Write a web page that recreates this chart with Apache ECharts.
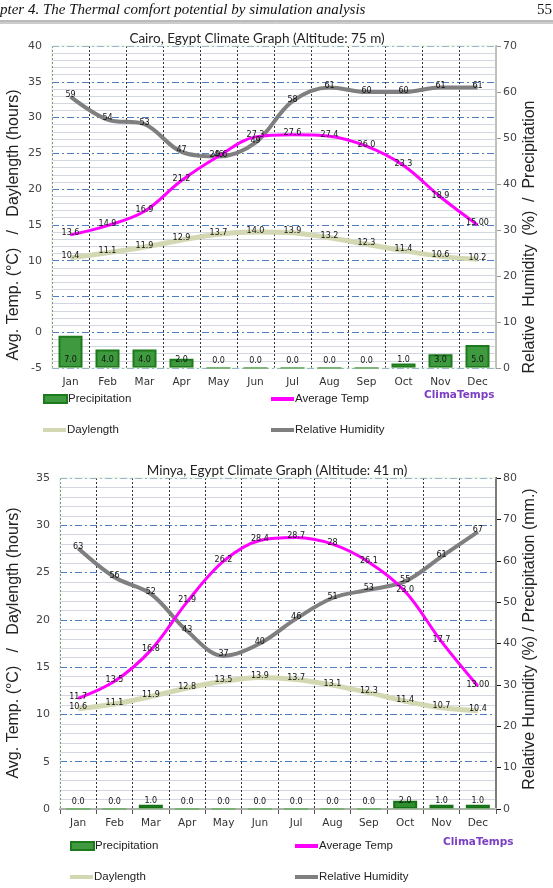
<!DOCTYPE html>
<html>
<head>
<meta charset="utf-8">
<script src="https://cdn.jsdelivr.net/npm/echarts@6/dist/echarts.min.js"></script>
<style>
html, body { margin: 0; padding: 0; background: #fff; }
#chart { width: 553px; height: 888px; }
</style>
</head>
<body>
<div id="chart"></div>
<script>
var months = ['Jan', 'Feb', 'Mar', 'Apr', 'May', 'Jun', 'Jul', 'Aug', 'Sep', 'Oct', 'Nov', 'Dec'];

// Cairo
var cairoTemp = [13.6, 14.9, 16.9, 21.2, 24.6, 27.3, 27.6, 27.4, 26.0, 23.3, 18.9, 15.0];
var cairoTempLabels = ['13.6', '14.9', '16.9', '21.2', '24.6', '27.3', '27.6', '27.4', '26.0', '23.3', '18.9', '15.00'];
var cairoDay = [10.4, 11.1, 11.9, 12.9, 13.7, 14.0, 13.9, 13.2, 12.3, 11.4, 10.6, 10.2];
var cairoHum = [59, 54, 53, 47, 46, 49, 58, 61, 60, 60, 61, 61];
var cairoPrec = [7, 4, 4, 2, 0, 0, 0, 0, 0, 1, 3, 5];

// Minya
var minyaTemp = [11.7, 13.5, 16.8, 21.9, 26.2, 28.4, 28.7, 28.0, 26.1, 23.0, 17.7, 13.0];
var minyaTempLabels = ['11.7', '13.5', '16.8', '21.9', '26.2', '28.4', '28.7', '28', '26.1', '23.0', '17.7', '13.00'];
var minyaDay = [10.6, 11.1, 11.9, 12.8, 13.5, 13.9, 13.7, 13.1, 12.3, 11.4, 10.7, 10.4];
var minyaHum = [63, 56, 52, 43, 37, 40, 46, 51, 53, 55, 61, 67];
var minyaPrec = [0, 0, 1, 0, 0, 0, 0, 0, 0, 2, 1, 1];

var FONT = 'DejaVu Sans';
var ptLabel = { show: true, position: 'top', distance: -3, fontSize: 8, color: '#111', fontFamily: FONT };

function lineSeries(name, g, yi, data, color, width, fmt) {
	return {
		name: name,
		type: 'line',
		xAxisIndex: g,
		yAxisIndex: yi,
		data: data,
		smooth: 0.35,
		symbol: 'circle',
		symbolSize: 1,
		itemStyle: { color: color },
		lineStyle: { color: color, width: width },
		label: Object.assign({}, ptLabel, { formatter: fmt }),
		animation: false
	};
}

function barSeries(g, yi, data, fill, border) {
	return {
		name: 'Precipitation',
		type: 'bar',
		xAxisIndex: g,
		yAxisIndex: yi,
		data: data,
		barWidth: 24,
		itemStyle: { color: fill, borderColor: border, borderWidth: 2 },
		label: {
			show: true, position: 'insideBottom', distance: 4, fontSize: 8, color: '#111', fontFamily: FONT,
			formatter: function (p) { return p.value.toFixed(1); }
		},
		animation: false
	};
}

function chartSeries(g, temp, tempLabels, day, hum, prec, fill, border) {
	return [
		barSeries(g, g * 2 + 1, prec, fill, border),
		lineSeries('Daylength', g, g * 2, day, '#d4d8b2', 5, function (p) { return p.value.toFixed(1); }),
		lineSeries('Relative Humidity', g, g * 2 + 1, hum, '#7f7f7f', 4, function (p) { return String(p.value); }),
		lineSeries('Average Temp', g, g * 2, temp, '#ff00ff', 3, function (p) { return tempLabels[p.dataIndex]; })
	];
}

function xAxisCfg(g, showLine) {
	return {
		type: 'category',
		gridIndex: g,
		data: months,
		boundaryGap: true,
		axisLine: { show: showLine, lineStyle: { color: '#777', width: 2 } },
		axisTick: { show: showLine, interval: 0, length: 5, lineStyle: { color: '#555' } },
		axisLabel: { fontSize: 10.5, color: '#333', fontFamily: FONT, margin: 9 },
		splitLine: { show: true, interval: 0, lineStyle: { color: '#333', type: [2, 2], width: 1 } }
	};
}

function leftAxis(g, min, max) {
	return {
		type: 'value',
		gridIndex: g,
		min: min,
		max: max,
		interval: 5,
		axisLine: { show: false },
		axisTick: { show: false },
		axisLabel: { fontSize: 11, color: '#444', fontFamily: FONT, margin: 10 },
		splitLine: { show: true, lineStyle: { color: '#4f7fc0', type: [7, 3, 2, 3], width: 1 } },
		minorTick: { show: false, splitNumber: 5 },
		minorSplitLine: { show: true, lineStyle: { color: '#d3d7e2', width: 1 } }
	};
}

function rightAxis(g, max, lineColor) {
	return {
		type: 'value',
		gridIndex: g,
		position: 'right',
		min: 0,
		max: max,
		interval: 10,
		axisLine: { show: true, lineStyle: { color: lineColor, width: 2 } },
		axisTick: { show: true, length: 5, lineStyle: { color: lineColor } },
		axisLabel: { fontSize: 11, color: '#444', fontFamily: FONT, margin: 7 },
		splitLine: { show: false }
	};
}

function legendItem(left, top, name, h) {
	return {
		left: left,
		top: top,
		padding: 0,
		selectedMode: false,
		itemWidth: 23,
		itemHeight: h,
		itemGap: 0,
		data: [{ name: name, icon: 'rect' }],
		textStyle: { fontSize: 11.5, color: '#222', fontFamily: 'Liberation Sans', padding: [0, 0, 0, -4] }
	};
}

function vText(x, y, text) {
	return {
		type: 'text', x: x, y: y, rotation: Math.PI / 2,
		style: { text: text, fontSize: 16, fontFamily: 'Liberation Sans', fill: '#222', textAlign: 'center', textVerticalAlign: 'middle' }
	};
}

var chart = echarts.init(document.getElementById('chart'));
var option = {
	backgroundColor: '#fff',
	animation: false,
	title: [
		{ text: 'Cairo, Egypt Climate Graph (Altitude: 75 m)', left: 252, top: 27, textAlign: 'center',
			textStyle: { fontSize: 13.5, fontWeight: 'normal', color: '#222', fontFamily: 'Lato' } },
		{ text: 'Minya, Egypt Climate Graph (Altitude: 41 m)', left: 272, top: 459, textAlign: 'center',
			textStyle: { fontSize: 13.5, fontWeight: 'normal', color: '#222', fontFamily: 'Lato' } }
	],
	grid: [
		{ left: 52, right: 57, top: 46, height: 322 },
		{ left: 60, right: 57, top: 478, height: 331 }
	],
	xAxis: [xAxisCfg(0, false), xAxisCfg(1, true)],
	yAxis: [
		leftAxis(0, -5, 40), rightAxis(0, 70, '#999'),
		leftAxis(1, 0, 35), rightAxis(1, 80, '#111')
	],
	legend: [
		legendItem(43, 393, 'Precipitation', 8),
		legendItem(271, 393, 'Average Temp', 4),
		legendItem(43, 424, 'Daylength', 4),
		legendItem(271, 424, 'Relative Humidity', 4),
		legendItem(70, 840, 'Precipitation', 8),
		legendItem(295, 840, 'Average Temp', 4),
		legendItem(70, 871, 'Daylength', 4),
		legendItem(295, 871, 'Relative Humidity', 4)
	],
	graphic: [
		{ type: 'text', x: 0, y: 3, style: { text: 'pter 4. The Thermal comfort potential by simulation analysis', fontSize: 15, fontStyle: 'italic', fontFamily: 'Liberation Serif', fill: '#111' } },
		{ type: 'text', x: 537, y: 3, style: { text: '55', fontSize: 15, fontFamily: 'Liberation Serif', fill: '#111' } },
		{ type: 'line', shape: { x1: 0, y1: 21, x2: 553, y2: 21 }, style: { stroke: '#777', lineWidth: 1 } },
		{ type: 'line', shape: { x1: 0, y1: 23, x2: 553, y2: 23 }, style: { stroke: '#999', lineWidth: 1 } },
		{ type: 'rect', shape: { x: 52, y: 46, width: 444, height: 322 }, style: { fill: null, stroke: '#dff0d8', lineWidth: 1 }, z: 5 },
		{ type: 'rect', shape: { x: 60, y: 478, width: 436, height: 331 }, style: { fill: null, stroke: '#dff0d8', lineWidth: 1 }, z: 5 },
		vText(14, 225, 'Avg. Temp. (\u00B0C)   /   Daylength (hours)'),
		vText(530, 237, 'Relative  Humidity  (%)  /  Precipitation'),
		vText(14, 643, 'Avg. Temp. (\u00B0C)   /   Daylength (hours)'),
		vText(530, 639, 'Relative Humidity (%) / Precipitation (mm.)'),
		{ type: 'text', x: 424, y: 390, style: { text: 'ClimaTemps', fontSize: 10.5, fontWeight: 'bold', fontFamily: FONT, fill: '#7b3fc4' } },
		{ type: 'text', x: 443, y: 837, style: { text: 'ClimaTemps', fontSize: 10.5, fontWeight: 'bold', fontFamily: FONT, fill: '#7b3fc4' } }
	],
	series: [].concat(
		chartSeries(0, cairoTemp, cairoTempLabels, cairoDay, cairoHum, cairoPrec, '#3f9a3f', '#1c7a1c'),
		chartSeries(1, minyaTemp, minyaTempLabels, minyaDay, minyaHum, minyaPrec, '#2f8f2f', '#167016')
	)
};
chart.setOption(option);
</script>
</body>
</html>
